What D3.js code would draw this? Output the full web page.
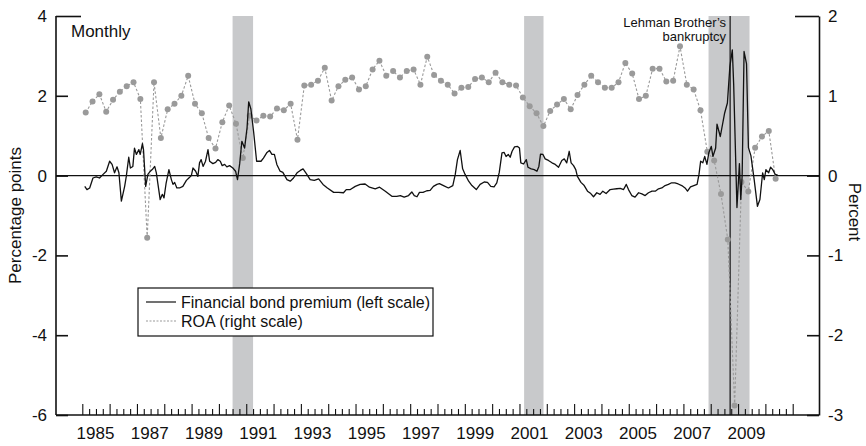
<!DOCTYPE html>
<html>
<head>
<meta charset="utf-8">
<script src="https://cdn.jsdelivr.net/npm/d3@7"></script>
<style>
  body { margin: 0; background: #fff; }
  text { font-family: "Liberation Sans", Arial, Helvetica, sans-serif; fill: #111; }
</style>
</head>
<body>
<svg id="chart" width="866" height="446"></svg>
<script>
// Financial bond premium, monthly: [decimal year, percentage points]
const premium = [
  [1985.09,-0.27],[1985.17,-0.35],[1985.27,-0.31],[1985.39,-0.06],[1985.51,-0.03],[1985.63,-0.06],
  [1985.76,0.03],[1985.88,0.11],[1986.00,0.36],[1986.09,0.28],[1986.18,0.07],[1986.27,0.22],
  [1986.34,0.07],[1986.43,-0.64],[1986.55,-0.27],[1986.61,-0.02],[1986.70,0.46],[1986.76,0.19],
  [1986.85,0.23],[1986.91,0.69],[1986.98,0.53],[1987.07,0.65],[1987.12,0.53],[1987.20,0.80],
  [1987.24,0.65],[1987.32,-0.27],[1987.40,0.03],[1987.49,0.11],[1987.56,0.15],[1987.65,0.23],
  [1987.71,0.07],[1987.77,-0.22],[1987.85,-0.60],[1987.93,-0.47],[1987.99,-0.56],[1988.07,-0.18],
  [1988.17,0.15],[1988.26,-0.10],[1988.32,-0.22],[1988.38,-0.17],[1988.46,-0.31],[1988.56,-0.31],
  [1988.68,-0.27],[1988.81,-0.12],[1988.90,-0.06],[1988.99,0.00],[1989.05,0.19],[1989.15,0.11],
  [1989.23,-0.02],[1989.29,0.32],[1989.35,0.40],[1989.42,0.23],[1989.51,0.36],[1989.60,0.65],
  [1989.66,0.36],[1989.78,0.30],[1989.88,0.33],[1989.96,0.40],[1990.05,0.36],[1990.12,0.25],
  [1990.21,0.28],[1990.29,0.22],[1990.39,0.25],[1990.51,0.19],[1990.61,0.11],[1990.68,-0.10],
  [1990.76,0.30],[1990.84,0.86],[1990.94,0.69],[1991.03,1.20],[1991.09,1.85],[1991.17,1.67],
  [1991.27,1.10],[1991.38,0.36],[1991.54,0.36],[1991.63,0.44],[1991.76,0.58],[1991.85,0.63],
  [1991.94,0.53],[1992.03,0.53],[1992.12,0.28],[1992.24,0.11],[1992.34,0.08],[1992.49,-0.10],
  [1992.61,-0.14],[1992.73,-0.06],[1992.86,0.07],[1992.98,0.13],[1993.08,0.17],[1993.20,0.05],
  [1993.34,-0.10],[1993.49,-0.12],[1993.65,-0.08],[1993.81,-0.22],[1993.97,-0.31],[1994.20,-0.42],
  [1994.38,-0.42],[1994.56,-0.43],[1994.66,-0.35],[1994.81,-0.35],[1994.99,-0.27],[1995.17,-0.22],
  [1995.35,-0.21],[1995.51,-0.29],[1995.72,-0.33],[1995.88,-0.29],[1996.09,-0.39],[1996.33,-0.52],
  [1996.51,-0.52],[1996.64,-0.50],[1996.78,-0.54],[1996.94,-0.50],[1997.06,-0.41],[1997.15,-0.50],
  [1997.25,-0.53],[1997.34,-0.42],[1997.47,-0.42],[1997.61,-0.38],[1997.73,-0.37],[1997.85,-0.27],
  [1997.98,-0.22],[1998.07,-0.20],[1998.22,-0.25],[1998.40,-0.31],[1998.56,-0.25],[1998.65,0.03],
  [1998.73,0.40],[1998.83,0.63],[1998.92,0.17],[1999.01,0.03],[1999.14,-0.14],[1999.26,-0.25],
  [1999.42,-0.35],[1999.56,-0.22],[1999.71,-0.16],[1999.83,-0.17],[1999.95,-0.27],[2000.07,-0.28],
  [2000.17,-0.18],[2000.26,0.08],[2000.36,0.57],[2000.44,0.58],[2000.51,0.48],[2000.59,0.53],
  [2000.66,0.46],[2000.73,0.61],[2000.82,0.72],[2000.93,0.73],[2001.00,0.69],[2001.05,0.32],
  [2001.15,0.29],[2001.25,0.40],[2001.31,0.21],[2001.43,0.17],[2001.54,0.15],[2001.64,0.11],
  [2001.71,0.23],[2001.77,0.54],[2001.86,0.53],[2001.94,0.42],[2002.06,0.38],[2002.19,0.32],
  [2002.31,0.28],[2002.43,0.21],[2002.55,0.38],[2002.64,0.42],[2002.73,0.32],[2002.82,0.61],
  [2002.89,0.32],[2002.98,0.25],[2003.06,0.15],[2003.12,-0.02],[2003.25,-0.17],[2003.37,-0.25],
  [2003.49,-0.39],[2003.61,-0.45],[2003.71,-0.53],[2003.83,-0.43],[2003.95,-0.47],[2004.05,-0.39],
  [2004.17,-0.45],[2004.32,-0.35],[2004.44,-0.34],[2004.56,-0.33],[2004.69,-0.32],[2004.81,-0.35],
  [2004.91,-0.22],[2004.99,-0.35],[2005.11,-0.50],[2005.23,-0.54],[2005.36,-0.43],[2005.48,-0.46],
  [2005.60,-0.50],[2005.72,-0.43],[2005.85,-0.39],[2005.97,-0.39],[2006.09,-0.33],[2006.21,-0.31],
  [2006.33,-0.25],[2006.45,-0.22],[2006.57,-0.18],[2006.69,-0.18],[2006.81,-0.21],[2006.94,-0.25],
  [2007.06,-0.31],[2007.15,-0.39],[2007.26,-0.28],[2007.38,-0.25],[2007.50,-0.22],[2007.57,0.03],
  [2007.63,0.36],[2007.71,0.32],[2007.78,0.48],[2007.86,0.28],[2007.93,0.57],[2008.02,0.73],
  [2008.08,0.48],[2008.18,0.69],[2008.23,1.29],[2008.35,0.98],[2008.51,1.57],[2008.61,1.82],
  [2008.70,2.73],[2008.79,3.15],[2008.84,2.28],[2008.96,-0.80],[2009.05,0.30],[2009.10,-0.60],
  [2009.15,0.00],[2009.22,3.11],[2009.31,2.80],[2009.38,0.70],[2009.47,0.50],[2009.59,-0.10],
  [2009.71,-0.77],[2009.80,-0.60],[2009.90,0.07],[2009.96,-0.10],[2010.02,0.15],[2010.12,0.07],
  [2010.19,0.21],[2010.27,0.15],[2010.36,0.03],[2010.45,0.01]
];

// Return on assets, quarterly from 1985 Q1 (percent)
const roaFirstYear = 1985;
const roa = [
  0.79, 0.93, 1.02, 0.80,   0.95, 1.05, 1.12, 1.17,   0.96, -0.78, 1.17, 0.47,
  0.83, 0.90, 1.00, 1.25,   0.90, 0.78, 0.47, 0.34,   0.67, 0.88, 0.65, 0.22,
  0.75, 0.69, 0.75, 0.74,   0.84, 0.82, 0.90, 0.45,   1.13, 1.14, 1.19, 1.35,
  0.94, 1.12, 1.20, 1.23,   1.08, 1.12, 1.33, 1.44,   1.25, 1.31, 1.23, 1.31,
  1.33, 1.14, 1.49, 1.26,   1.19, 1.14, 1.03, 1.10,   1.11, 1.21, 1.23, 1.17,
  1.29, 1.17, 1.14, 1.13,   0.98, 0.87, 0.78, 0.62,   0.81, 0.89, 0.96, 0.83,
  1.01, 1.14, 1.25, 1.17,   1.10, 1.10, 1.17, 1.41,   1.28, 0.96, 1.00, 1.34,
  1.34, 1.18, 1.19, 1.62,   1.14, 1.08, 0.82, 0.30,   0.19, -0.23, -0.80, -2.88,
  -0.08, -0.20, 0.35, 0.49, 0.56, -0.04
];

// Recession periods (decimal years)
const recessions = [[1990.50, 1991.25], [2001.17, 2001.88], [2007.92, 2009.42]];
const lehmanDate = 2008.71;

const leftTicks = [-6, -4, -2, 0, 2, 4];
const rightTicks = [-3, -2, -1, 0, 1, 2];
const yearLabels = d3.range(1985, 2010, 2);
const yearTicks = d3.range(1985, 2012);
const quarterTicks = d3.range(1985, 2011, 0.25).filter(t => t % 1 !== 0);

const svg = d3.select("#chart");
const plotLeft = 56, plotRight = 819, plotTop = 16, plotBottom = 415;

const x = d3.scaleLinear().domain([1985, 2011]).range([82.3, 792.7]);
const xLabel = d3.scaleLinear().domain([1985, 2009]).range([95, 746]);
const yL = d3.scaleLinear().domain([-6, 4]).range([plotBottom, plotTop]);
const yR = d3.scaleLinear().domain([-3, 2]).range([plotBottom, plotTop]);

// Recession shading
svg.append("g").selectAll("rect").data(recessions).join("rect")
  .attr("x", d => x(d[0])).attr("width", d => x(d[1]) - x(d[0]))
  .attr("y", plotTop).attr("height", plotBottom - plotTop)
  .attr("fill", "#c8c9cb");

// Zero line
svg.append("line")
  .attr("x1", plotLeft).attr("x2", plotRight)
  .attr("y1", yL(0)).attr("y2", yL(0))
  .attr("stroke", "#111").attr("stroke-width", 1.4);

// Lehman marker
svg.append("line")
  .attr("x1", x(lehmanDate)).attr("x2", x(lehmanDate))
  .attr("y1", plotTop).attr("y2", plotBottom)
  .attr("stroke", "#111").attr("stroke-width", 1.2);
const lehmanText = svg.append("text")
  .attr("text-anchor", "end").attr("font-size", 13)
  .attr("x", x(lehmanDate) - 4).attr("y", 27);
lehmanText.append("tspan").attr("x", x(lehmanDate) - 4).attr("dy", 0).text("Lehman Brother\u2019s");
lehmanText.append("tspan").attr("x", x(lehmanDate) - 4).attr("dy", 14).text("bankruptcy");

// ROA (right scale)
const roaPoints = roa.map((v, i) => [roaFirstYear + i * 0.25 + 0.125, v]);
svg.append("path").datum(roaPoints)
  .attr("fill", "none").attr("stroke", "#9a9a9a").attr("stroke-width", 1.1)
  .attr("stroke-dasharray", "2.5,2")
  .attr("d", d3.line().x(d => x(d[0])).y(d => yR(d[1])));
svg.append("g").selectAll("circle").data(roaPoints).join("circle")
  .attr("cx", d => x(d[0])).attr("cy", d => yR(d[1])).attr("r", 3)
  .attr("fill", "#9a9a9a");

// Financial bond premium (left scale)
svg.append("path").datum(premium)
  .attr("fill", "none").attr("stroke", "#111").attr("stroke-width", 1.3)
  .attr("stroke-linejoin", "round")
  .attr("d", d3.line().x(d => x(d[0])).y(d => yL(d[1])));

// Axes
const axisStroke = g => g.selectAll("path, line").attr("stroke", "#111").attr("stroke-width", 1.6);
const plainNumber = d => String(d);

const gLeft = svg.append("g").attr("transform", `translate(${plotLeft},0)`)
  .call(d3.axisLeft(yL).tickValues(leftTicks).tickSize(-12).tickSizeOuter(0).tickPadding(9).tickFormat(plainNumber));
gLeft.selectAll("line").filter(d => d === 4).attr("x2", 25);
gLeft.call(axisStroke);
gLeft.selectAll("text").attr("font-size", 17).attr("font-family", null).attr("fill", "#111");
gLeft.select(".domain").attr("d", `M0,${plotTop}V${plotBottom}`);

const gRight = svg.append("g").attr("transform", `translate(${plotRight},0)`)
  .call(d3.axisRight(yR).tickValues(rightTicks).tickSize(-12).tickSizeOuter(0).tickPadding(9).tickFormat(plainNumber));
gRight.selectAll("line").filter(d => d === 2).attr("x2", -24);
gRight.call(axisStroke);
gRight.selectAll("text").attr("font-size", 17).attr("font-family", null).attr("fill", "#111");

const gBottom = svg.append("g").attr("transform", `translate(0,${plotBottom})`)
  .call(d3.axisBottom(x).tickValues(yearTicks.concat(quarterTicks)).tickSize(-11).tickSizeOuter(0).tickFormat(""));
gBottom.selectAll(".tick line").filter(d => d % 1 !== 0).attr("y2", -6);
gBottom.select(".domain").attr("d", `M${plotLeft},0H${plotRight}`);
gBottom.call(axisStroke);
gBottom.selectAll(".tick line").attr("stroke-width", 1.1);

const gLabels = svg.append("g").attr("transform", `translate(0,${plotBottom})`)
  .call(d3.axisBottom(xLabel).tickValues(yearLabels).tickSize(0).tickPadding(12).tickFormat(plainNumber));
gLabels.select(".domain").remove();
gLabels.selectAll("text").attr("font-size", 17).attr("font-family", null).attr("fill", "#111");

// Axis titles
svg.append("text").attr("font-size", 17).attr("text-anchor", "middle")
  .attr("transform", `translate(21,${yL(-1)}) rotate(-90)`).text("Percentage points");
svg.append("text").attr("font-size", 17).attr("text-anchor", "middle")
  .attr("transform", `translate(849,212) rotate(90)`).text("Percent");

svg.append("text").attr("font-size", 17).attr("x", 71).attr("y", 37).text("Monthly");

// Legend
const legend = svg.append("g").attr("transform", "translate(138,288)");
legend.append("rect").attr("width", 295).attr("height", 48)
  .attr("fill", "#fff").attr("stroke", "#111").attr("stroke-width", 1.2);
const legendItems = [
  { label: "Financial bond premium (left scale)", color: "#111", dash: null },
  { label: "ROA (right scale)", color: "#9a9a9a", dash: "2,1.5" }
];
legendItems.forEach((item, i) => {
  const cy = 14 + i * 19;
  legend.append("line").attr("x1", 8).attr("x2", 38).attr("y1", cy).attr("y2", cy)
    .attr("stroke", item.color).attr("stroke-width", 1.2).attr("stroke-dasharray", item.dash);
  legend.append("text").attr("x", 43).attr("y", cy + 5.5).attr("font-size", 16).text(item.label);
});
</script>
</body>
</html>
